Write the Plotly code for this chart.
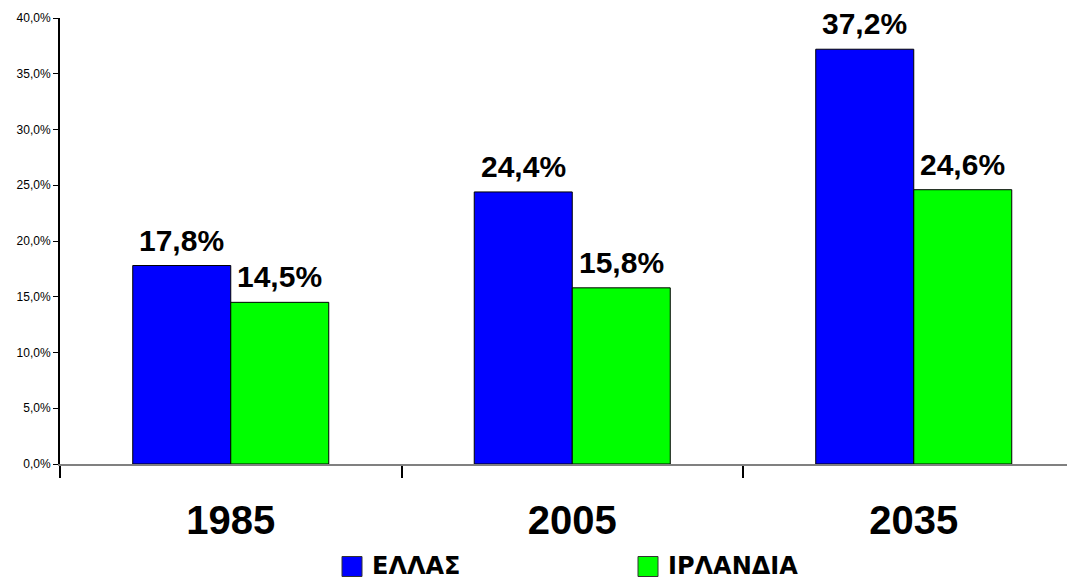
import plotly.graph_objects as go

years = ["1985", "2005", "2035"]
ellas = [17.8, 24.4, 37.2]
irlandia = [14.5, 15.8, 24.6]
series_names = ["ΕΛΛΑΣ", "ΙΡΛΑΝΔΙΑ"]
colors = ["#0000FF", "#00FF00"]
y_ticks = [0, 5, 10, 15, 20, 25, 30, 35, 40]
y_ticktext = [f"{t:.1f}%".replace(".", ",") for t in y_ticks]

FONT = "Arial, Liberation Sans, sans-serif"
LEGFONT = "DejaVu Sans, sans-serif"
bargap = 0.426
bar_w = (1 - bargap) / 2

# page body has an 8px default margin; compensate so the figure fills the window
OFF = 8

fig = go.Figure()
for name, vals, col in [(series_names[0], ellas, colors[0]), (series_names[1], irlandia, colors[1])]:
    fig.add_trace(go.Bar(
        x=years, y=vals, name=name,
        marker=dict(color=col, line=dict(color="black", width=1)),
        showlegend=False,
    ))

annotations = []
for k, vals in enumerate([ellas, irlandia]):
    for i, v in enumerate(vals):
        xpos = i + (k - 0.5) * bar_w
        annotations.append(dict(
            x=xpos, y=v, xref="x", yref="y",
            text="<b>" + f"{v:.1f}%".replace(".", ",") + "</b>",
            showarrow=False, yanchor="bottom", yshift=8, borderpad=0,
            font=dict(family=FONT, size=30, color="black"),
        ))

# Legend drawn manually (window pixel positions -> paper coords)
W, H = 1015.0, 446.0
def px(x):
    return (x - 60) / W
def py(y):
    return (464.5 - y) / H

shapes = []
for name, col, sx, tx in [(series_names[0], colors[0], 342, 370), (series_names[1], colors[1], 638, 666)]:
    shapes.append(dict(type="rect", xref="paper", yref="paper",
                       x0=px(sx), x1=px(sx + 20), y0=py(557), y1=py(577),
                       fillcolor=col, line=dict(color="#333333", width=1)))
    annotations.append(dict(x=px(tx), y=py(566), xref="paper", yref="paper",
                            text="<b>" + name + "</b>", showarrow=False, xanchor="left", yanchor="middle",
                            font=dict(family=LEGFONT, size=24, color="black", weight=700)))

fig.update_layout(
    width=1075 - OFF, height=580 - OFF,
    margin=dict(l=60 - OFF, r=0, t=18 - OFF, b=115.5, autoexpand=False),
    paper_bgcolor="white", plot_bgcolor="white",
    separators=",.",
    barmode="group", bargap=bargap, bargroupgap=0,
    annotations=annotations, shapes=shapes,
    font=dict(family=FONT, color="black"),
)
fig.update_xaxes(
    type="category", range=[-0.5, -0.5 + W / 341.5], automargin=False,
    showline=True, linecolor="#808080", linewidth=2,
    ticks="outside", tickson="boundaries", ticklen=12, tickcolor="black", tickwidth=2,
    tickfont=dict(family=FONT, size=40, color="black", weight="bold"),
    showgrid=False, ticklabelstandoff=20,
)
fig.update_yaxes(
    range=[0, 40], tickmode="array", tickvals=y_ticks, ticktext=y_ticktext, automargin=False,
    showline=True, linecolor="black", linewidth=2,
    ticks="outside", ticklen=5, tickcolor="black", tickwidth=1,
    tickfont=dict(family=FONT, size=12, color="black"),
    showgrid=False, zeroline=False,
)

fig.write_html("out.html")
